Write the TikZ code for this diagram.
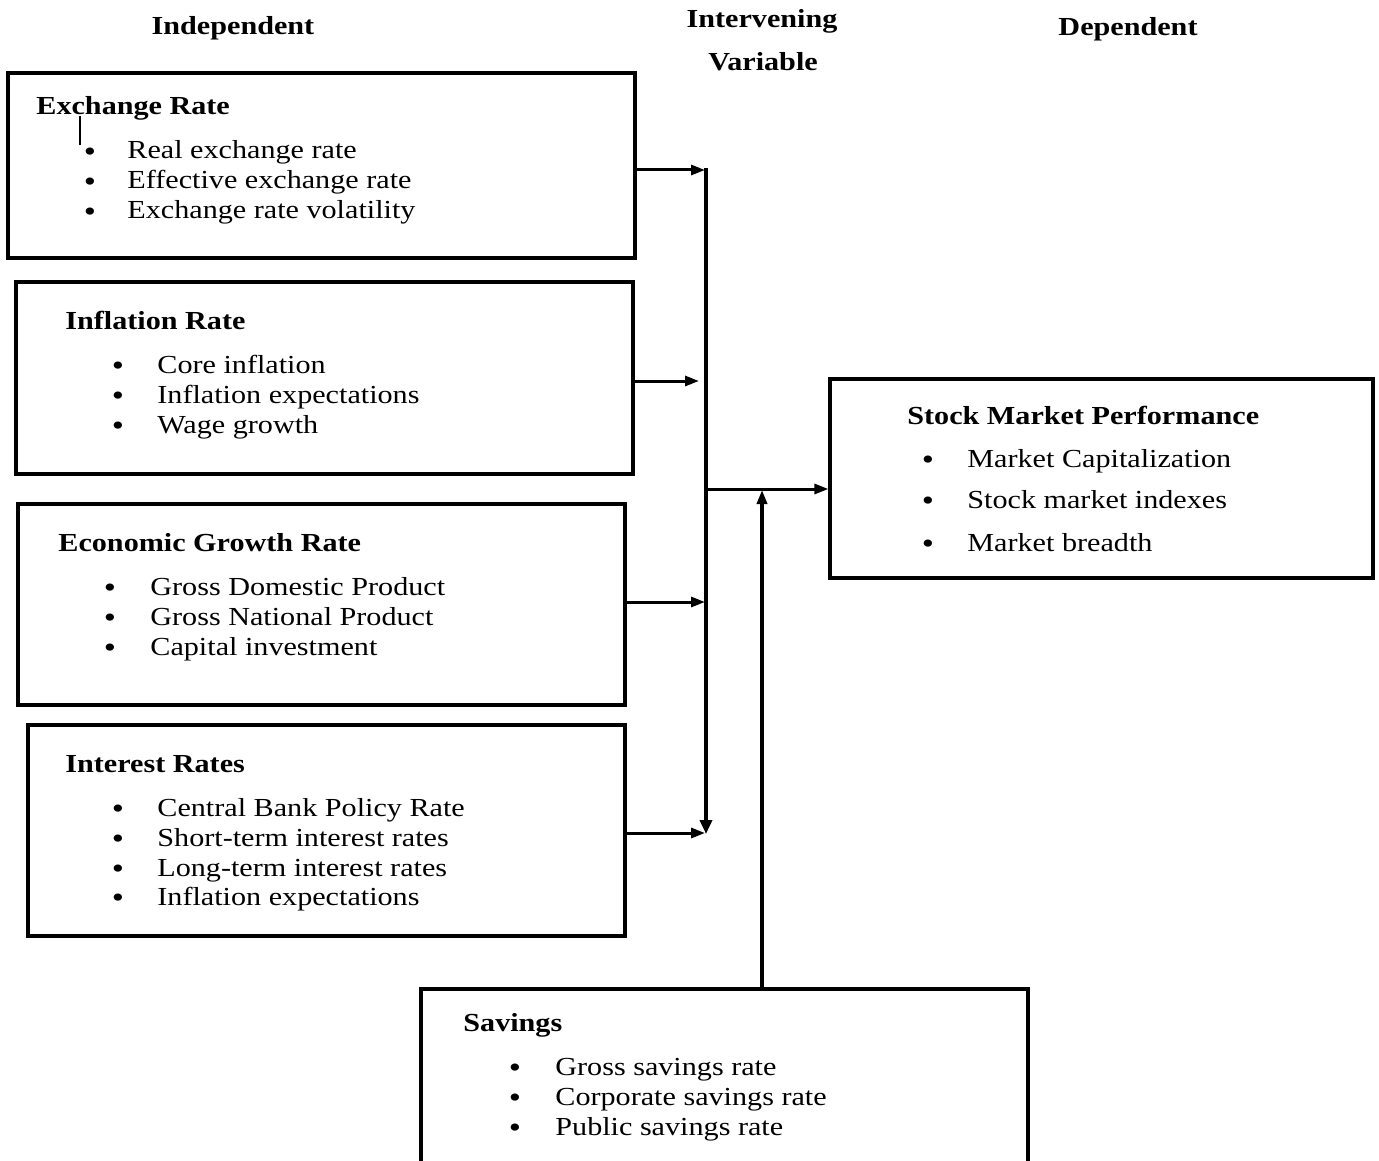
\documentclass[tikz,border=0pt]{standalone}
\usepackage{fontspec}
\setmainfont{Liberation Serif}[FakeStretch=1.16]
\usetikzlibrary{arrows.meta,fit}
\begin{document}
\begin{tikzpicture}[x=0.5pt,y=-0.5pt,
  box/.style={draw,line width=1.6pt,inner sep=0pt},
  txt/.style={inner sep=0pt,anchor=base west,font=\fontsize{13pt}{15pt}\selectfont},
  hd/.style={inner sep=0pt,anchor=base west,font=\fontsize{13pt}{15pt}\selectfont\bfseries},
  colhd/.style={inner sep=0pt,anchor=base,font=\fontsize{13pt}{15pt}\selectfont\bfseries},
  bul/.style={inner sep=0pt,anchor=base,yshift=-1.2pt,font=\fontsize{15pt}{15pt}\selectfont},
  arr/.style={line width=1.5pt,-{Triangle[length=7pt,width=5pt]}},
  barline/.style={line width=2.4pt,-{Triangle[length=7pt,width=6pt]}},
]
\clip (0,0) rectangle (1379,1160);
\fill[white] (0,0) rectangle (1379,1160);

% column headings
\node[colhd] (hindep) at (233,35) {Independent};
\node[colhd] (hinter) at (762,28) {Intervening};
\node[colhd] (hvar) at (763,71) {Variable};
\node[colhd] (hdep) at (1128,36) {Dependent};

% boxes
\node[box,fit={(8,73)(635,258)}] (er) {};
\node[box,fit={(16,282)(633,474)}] (ir) {};
\node[box,fit={(18,504)(625,705)}] (eg) {};
\node[box,fit={(28,725)(625,936)}] (it) {};
\node[box,fit={(830,379)(1373,578)}] (smp) {};
\node[box,fit={(421,989)(1028,1180)}] (sav) {};

% Exchange Rate
\node[hd] (erh) at (36,115) {Exchange Rate};
\draw[line width=0.8pt] (80,116) -- (80,145);
\node[bul] (erb1) at (90,159) {•};
\node[bul] (erb2) at (90,189) {•};
\node[bul] (erb3) at (90,219) {•};
\node[txt] (ert1) at (127,159) {Real exchange rate};
\node[txt] (ert2) at (127,189) {Effective exchange rate};
\node[txt] (ert3) at (127,219) {Exchange rate volatility};

% Inflation Rate
\node[hd] (irh) at (65,329) {Inflation Rate};
\node[bul] (irb1) at (118,373) {•};
\node[bul] (irb2) at (118,403) {•};
\node[bul] (irb3) at (118,433) {•};
\node[txt] (irt1) at (157,373) {Core inflation};
\node[txt] (irt2) at (157,403) {Inflation expectations};
\node[txt] (irt3) at (157,433) {Wage growth};

% Economic Growth Rate
\node[hd] (egh) at (58,551) {Economic Growth Rate};
\node[bul] (egb1) at (110,595) {•};
\node[bul] (egb2) at (110,625) {•};
\node[bul] (egb3) at (110,655) {•};
\node[txt] (egt1) at (150,595) {Gross Domestic Product};
\node[txt] (egt2) at (150,625) {Gross National Product};
\node[txt] (egt3) at (150,655) {Capital investment};

% Interest Rates
\node[hd] (ith) at (65,772) {Interest Rates};
\node[bul] (itb1) at (118,816) {•};
\node[bul] (itb2) at (118,846) {•};
\node[bul] (itb3) at (118,876) {•};
\node[bul] (itb4) at (118,905) {•};
\node[txt] (itt1) at (157,816) {Central Bank Policy Rate};
\node[txt] (itt2) at (157,846) {Short-term interest rates};
\node[txt] (itt3) at (157,876) {Long-term interest rates};
\node[txt] (itt4) at (157,905) {Inflation expectations};

% Stock Market Performance
\node[hd] (smph) at (907,424) {Stock Market Performance};
\node[bul] (smpb1) at (928,467) {•};
\node[bul] (smpb2) at (928,508) {•};
\node[bul] (smpb3) at (928,551) {•};
\node[txt] (smpt1) at (967,467) {Market Capitalization};
\node[txt] (smpt2) at (967,508) {Stock market indexes};
\node[txt] (smpt3) at (967,551) {Market breadth};

% Savings
\node[hd] (savh) at (463,1031) {Savings};
\node[bul] (savb1) at (515,1075) {•};
\node[bul] (savb2) at (515,1105) {•};
\node[bul] (savb3) at (515,1135) {•};
\node[txt] (savt1) at (555,1075) {Gross savings rate};
\node[txt] (savt2) at (555,1105) {Corporate savings rate};
\node[txt] (savt3) at (555,1135) {Public savings rate};

% connectors
\coordinate (bartop) at (706,168);
\coordinate (barbot) at (706,834);
\coordinate (junc) at (706,489);
\coordinate (a1) at (705,170);
\coordinate (a2) at (699,381);
\coordinate (a3) at (705,602);
\coordinate (a4) at (705,833);
\coordinate (s1) at (762,490);

\draw[barline] (bartop) -- (barbot);
\draw[arr] (er.east |- a1) -- (a1);
\draw[arr] (ir.east |- a2) -- (a2);
\draw[arr] (eg.east |- a3) -- (a3);
\draw[arr] (it.east |- a4) -- (a4);
\draw[arr] (junc) -- (smp.west |- junc);
\draw[arr,line width=1.7pt] (sav.north -| s1) -- (s1);
\end{tikzpicture}
\end{document}
